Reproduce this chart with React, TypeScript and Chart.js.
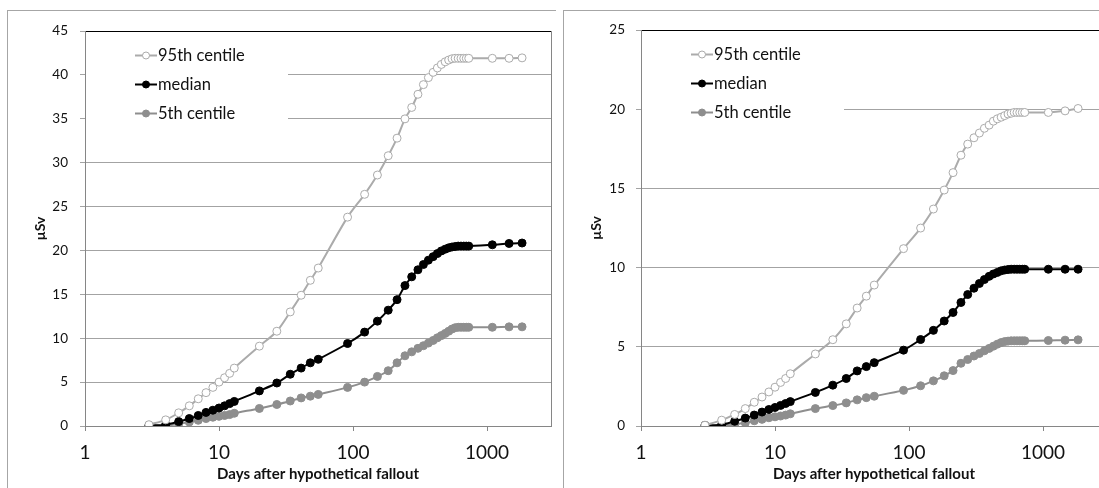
import React, { useEffect, useRef } from 'react';
import { Chart, registerables } from 'chart.js';

Chart.register(...registerables);

// Days after hypothetical fallout (x values)
const days = [3, 4, 5, 6, 7, 8, 9, 10, 11, 12, 13, 20, 27, 34, 41, 48, 55, 91, 122, 152, 183, 213, 244, 274, 305, 335, 365, 396, 426, 456, 487, 517, 548, 578, 609, 639, 670, 700, 730, 1095, 1460, 1825];
const xTickValues = [1, 10, 100, 1000];
const seriesNames = ['95th centile', 'median', '5th centile'];
const xTitle = 'Days after hypothetical fallout';
const yTitle = 'µSv';

// Left panel (µSv)
const leftP95 = [0.15, 0.7, 1.5, 2.3, 3.1, 3.8, 4.4, 5.0, 5.5, 6.0, 6.6, 9.1, 10.8, 13.0, 14.9, 16.6, 18.0, 23.8, 26.4, 28.6, 30.8, 32.8, 35.0, 36.3, 37.8, 38.9, 39.7, 40.3, 40.8, 41.2, 41.5, 41.7, 41.85, 41.9, 41.9, 41.9, 41.9, 41.9, 41.9, 41.9, 41.9, 41.95];
const leftMedian = [0.05, 0.15, 0.5, 0.85, 1.2, 1.55, 1.8, 2.05, 2.3, 2.55, 2.8, 4.0, 4.9, 5.9, 6.6, 7.2, 7.6, 9.4, 10.7, 11.95, 13.2, 14.4, 16.0, 17.0, 17.8, 18.4, 18.9, 19.3, 19.65, 19.95, 20.15, 20.3, 20.4, 20.45, 20.5, 20.5, 20.5, 20.5, 20.5, 20.65, 20.8, 20.85];
const leftP5 = [0.05, 0.05, 0.25, 0.45, 0.65, 0.85, 1.0, 1.1, 1.2, 1.3, 1.45, 2.0, 2.45, 2.85, 3.2, 3.4, 3.6, 4.4, 5.0, 5.65, 6.3, 7.2, 8.0, 8.45, 8.85, 9.15, 9.45, 9.75, 10.05, 10.3, 10.55, 10.8, 11.05, 11.2, 11.25, 11.25, 11.25, 11.25, 11.25, 11.25, 11.3, 11.3];

// Right panel (µSv)
const rightP95 = [0.05, 0.37, 0.73, 1.1, 1.5, 1.83, 2.15, 2.45, 2.75, 3.0, 3.3, 4.55, 5.45, 6.45, 7.45, 8.2, 8.9, 11.2, 12.5, 13.7, 14.9, 16.0, 17.1, 17.8, 18.2, 18.5, 18.8, 19.0, 19.25, 19.4, 19.5, 19.6, 19.7, 19.75, 19.8, 19.8, 19.8, 19.8, 19.8, 19.8, 19.9, 20.05];
const rightMedian = [0.04, 0.08, 0.3, 0.5, 0.69, 0.88, 1.04, 1.17, 1.3, 1.42, 1.54, 2.12, 2.58, 3.0, 3.48, 3.75, 4.0, 4.79, 5.46, 6.04, 6.63, 7.17, 7.8, 8.3, 8.7, 9.0, 9.25, 9.45, 9.6, 9.7, 9.8, 9.85, 9.88, 9.9, 9.9, 9.9, 9.9, 9.9, 9.9, 9.9, 9.9, 9.9];
const rightP5 = [0.02, 0.02, 0.1, 0.2, 0.33, 0.42, 0.52, 0.58, 0.63, 0.69, 0.77, 1.1, 1.29, 1.46, 1.65, 1.79, 1.88, 2.25, 2.54, 2.85, 3.17, 3.5, 3.96, 4.2, 4.42, 4.58, 4.75, 4.9, 5.04, 5.17, 5.27, 5.33, 5.36, 5.38, 5.38, 5.38, 5.38, 5.38, 5.38, 5.4, 5.42, 5.44];

const FONT = 'Lato, "Open Sans", sans-serif';
const GRID = '#A3A3A3';
const AXIS = '#868686';
const C95 = '#ABABAB';
const CMED = '#000000';
const C5 = '#8E8E8E';

const framePlugin = {
  id: 'frameAndLegend',
  afterDraw(chart: any) {
    const { ctx, chartArea: a } = chart;
    ctx.save();
    // right border of plot area
    ctx.strokeStyle = AXIS;
    ctx.lineWidth = 1;
    const rx = Math.round(a.right) + 0.5;
    ctx.beginPath();
    ctx.moveTo(rx, a.top);
    ctx.lineTo(rx, a.bottom);
    ctx.stroke();
    // legend box
    ctx.fillStyle = '#ffffff';
    ctx.fillRect(a.left + 1, a.top + 1, 202, 110);
    ctx.font = '16.5px ' + FONT;
    ctx.textBaseline = 'middle';
    ctx.textAlign = 'left';
    chart.data.datasets.forEach((ds: any, i: number) => {
      const y = Math.round(a.top + 24 + i * 28.8) + 0.5;
      ctx.strokeStyle = ds.borderColor;
      ctx.lineWidth = 2;
      ctx.beginPath();
      ctx.moveTo(a.left + 50, y);
      ctx.lineTo(a.left + 72, y);
      ctx.stroke();
      ctx.beginPath();
      ctx.arc(a.left + 61, y, 3.5, 0, Math.PI * 2);
      ctx.fillStyle = ds.pointBackgroundColor;
      ctx.fill();
      ctx.lineWidth = 1;
      ctx.strokeStyle = ds.pointBorderColor;
      ctx.stroke();
      ctx.fillStyle = '#111111';
      ctx.fillText(ds.label, a.left + 73, y);
    });
    ctx.restore();
  },
};

type PanelProps = {
  p95: number[];
  med: number[];
  p5: number[];
  yMax: number;
  yTickPad: number;
};

function ChartPanel({ p95, med, p5, yMax, yTickPad }: PanelProps) {
  const ref = useRef<HTMLCanvasElement>(null);
  useEffect(() => {
    if (!ref.current) return;
    const pts = (vals: number[]) => days.map((d, i) => ({ x: d, y: vals[i] }));
    const common = {
      borderWidth: 2,
      pointRadius: 4,
      pointBorderWidth: 1,
      tension: 0.3,
    };
    const chart = new Chart(ref.current, {
      type: 'line',
      data: {
        datasets: [
          {
            ...common,
            label: seriesNames[0],
            data: pts(p95),
            borderColor: C95,
            pointBackgroundColor: '#ffffff',
            pointBorderColor: C95,
          },
          {
            ...common,
            label: seriesNames[1],
            data: pts(med),
            borderColor: CMED,
            pointBackgroundColor: CMED,
            pointBorderColor: CMED,
          },
          {
            ...common,
            label: seriesNames[2],
            data: pts(p5),
            borderColor: C5,
            pointBackgroundColor: C5,
            pointBorderColor: C5,
          },
        ],
      },
      options: {
        animation: false,
        responsive: false,
        devicePixelRatio: 1,
        layout: { padding: { left: 0, top: 14, right: 5, bottom: 0 } },
        plugins: {
          legend: { display: false },
          tooltip: { enabled: false },
        },
        scales: {
          x: {
            type: 'logarithmic',
            min: 1,
            max: 3000,
            afterBuildTicks: (s: any) => {
              s.ticks = xTickValues.map((v) => ({ value: v }));
            },
            afterFit: (s: any) => {
              s.height = 62;
            },
            grid: {
              drawOnChartArea: false,
              drawTicks: true,
              tickLength: 5,
              tickColor: AXIS,
              color: AXIS,
            },
            border: { display: true, color: AXIS, width: 1 },
            ticks: {
              autoSkip: false,
              maxRotation: 0,
              padding: 10.6,
              color: '#111111',
              font: { family: FONT, size: 19 },
              callback: (v: any) => String(v),
            },
            title: {
              display: true,
              text: xTitle,
              color: '#111111',
              font: { family: FONT, size: 15, weight: 'bold' },
              padding: { top: 0, bottom: 5 },
            },
          },
          y: {
            min: 0,
            max: yMax,
            afterFit: (s: any) => {
              s.width = 77;
            },
            grid: {
              color: (c: any) => (c.tick && c.tick.value === yMax ? '#000000' : GRID),
              tickColor: GRID,
              tickLength: 5,
            },
            border: { display: true, color: AXIS, width: 1 },
            ticks: {
              stepSize: 5,
              padding: yTickPad,
              color: '#111111',
              font: { family: FONT, size: 13.5 },
            },
            title: {
              display: true,
              text: yTitle,
              color: '#111111',
              font: { family: FONT, size: 14, weight: 'bold' },
              padding: { top: 24, bottom: 0 },
            },
          },
        },
      },
      plugins: [framePlugin],
    } as any);
    return () => chart.destroy();
  }, [p95, med, p5, yMax, yTickPad]);
  return (
    <canvas
      ref={ref}
      width={548}
      height={477}
      style={{ position: 'absolute', left: 0, top: 0, width: 548, height: 477 }}
    />
  );
}

const panelStyle = (left: number): React.CSSProperties => ({
  position: 'absolute',
  left,
  top: 10,
  width: 548,
  height: 478,
  borderLeft: '1px solid #A6A6A6',
  borderTop: '1px solid #A6A6A6',
});

export default function App() {
  return (
    <div
      style={{
        position: 'fixed',
        left: 0,
        top: 0,
        width: 1099,
        height: 488,
        overflow: 'hidden',
        background: '#ffffff',
      }}
    >
      <div style={{ ...panelStyle(7) }}>
        <ChartPanel p95={leftP95} med={leftMedian} p5={leftP5} yMax={45} yTickPad={12} />
      </div>
      <div style={{ ...panelStyle(563) }}>
        <ChartPanel p95={rightP95} med={rightMedian} p5={rightP5} yMax={25} yTickPad={11} />
      </div>
    </div>
  );
}
